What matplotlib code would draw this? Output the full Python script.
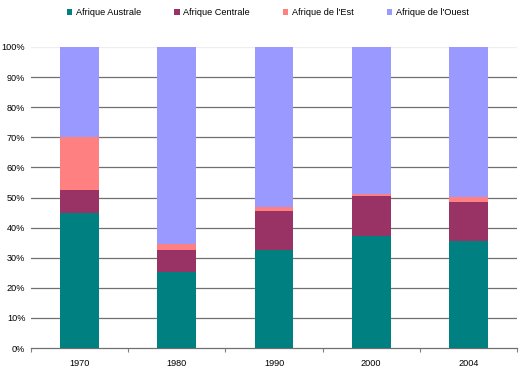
import matplotlib
matplotlib.use("Agg")
import matplotlib.pyplot as plt
import numpy as np
from matplotlib.ticker import FuncFormatter, FixedLocator

years = ["1970", "1980", "1990", "2000", "2004"]
series = ["Afrique Australe", "Afrique Centrale", "Afrique de l'Est", "Afrique de l'Ouest"]
australe = [44.7, 25.1, 32.6, 37.2, 35.6]
centrale = [7.8, 7.5, 12.9, 13.3, 12.9]
est = [17.7, 2.1, 1.3, 0.8, 1.6]
ouest = [29.8, 65.3, 53.2, 48.7, 49.9]
colors = ["#008080", "#993366", "#FF8080", "#9999FF"]

plt.rcParams['font.family'] = ['Liberation Sans', 'DejaVu Sans']
fig = plt.figure(figsize=(5.22, 3.73), dpi=100)
ax = fig.add_axes([31/522, 1-348/373, (517-31)/522, (348-47)/373])

x = np.arange(len(years))
bottom = np.zeros(len(years))
handles = []
for vals, col, name in zip([australe, centrale, est, ouest], colors, series):
    b = ax.bar(x, vals, width=0.4, bottom=bottom, color=col, label=name, zorder=3)
    handles.append(b)
    bottom += np.array(vals)

ax.set_xlim(-0.5, len(years) - 0.5)
ax.set_ylim(0, 100)
ax.set_yticks(np.arange(0, 101, 10))
ax.yaxis.set_major_formatter(FuncFormatter(lambda v, p: f"{int(v)}%"))
ax.set_xticks(x)
ax.set_xticklabels(years)
ax.xaxis.set_minor_locator(FixedLocator(np.arange(-0.5, len(years), 1.0)))
ax.tick_params(axis='x', which='major', length=0, pad=8, labelsize=6.6, colors='#000000')
ax.tick_params(axis='x', which='minor', length=3, width=0.8, color='#808080')
ax.tick_params(axis='y', length=0, pad=4, labelsize=6.6)

ax.grid(axis='y', color='#707070', linewidth=0.9, zorder=0)
gl = ax.get_ygridlines()
gl[-1].set_color('#eeeeee')
gl[0].set_visible(False)
for s in ['top', 'right', 'left']:
    ax.spines[s].set_visible(False)
ax.spines['bottom'].set_color('#707070')
ax.spines['bottom'].set_linewidth(0.9)

fig.legend(handles=handles, labels=series, loc='upper center', ncol=4,
           bbox_to_anchor=(0.513, 0.99), frameon=False, fontsize=6.6,
           handlelength=0.6, handleheight=0.6, handletextpad=0.4,
           columnspacing=3.6, borderaxespad=0.1)

fig.savefig("out.png", dpi=100)
